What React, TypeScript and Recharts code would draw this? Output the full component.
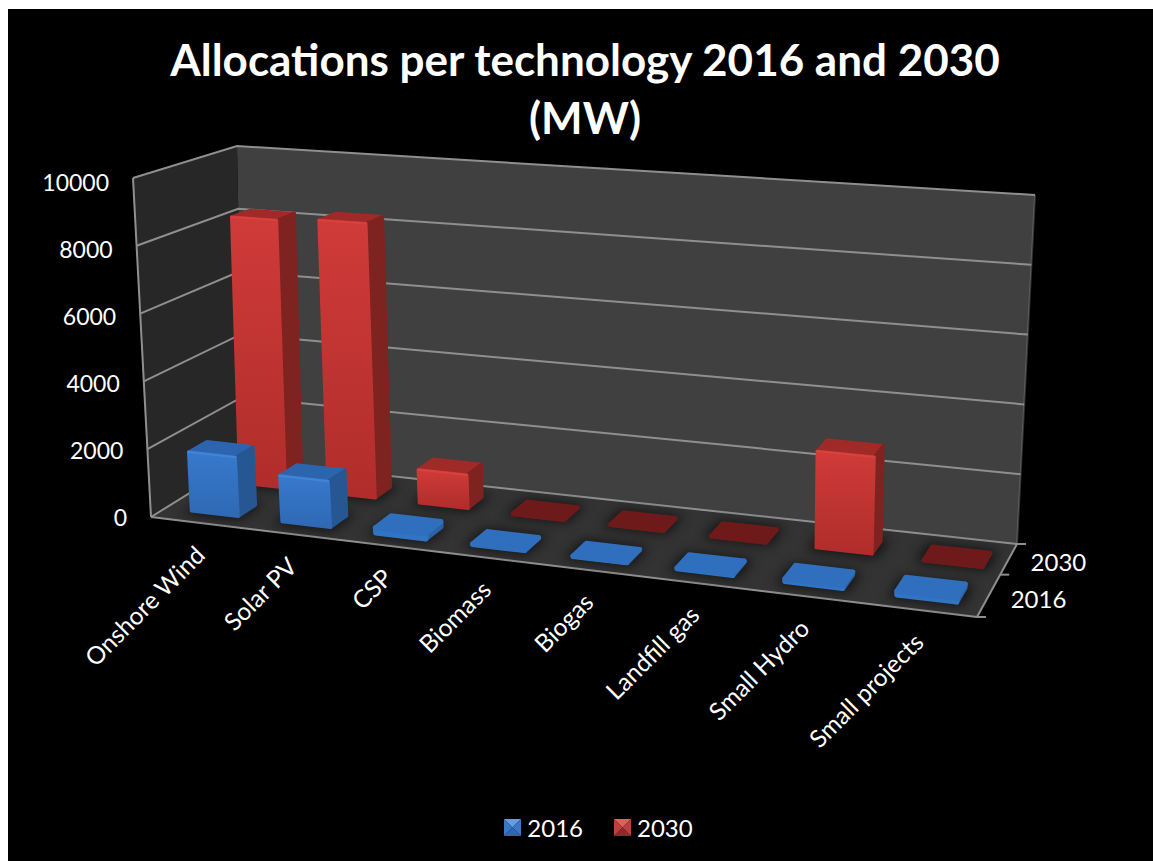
import React from 'react';
import { BarChart, Bar, XAxis, YAxis, CartesianGrid, Legend, Customized } from 'recharts';

const CATEGORIES = ['Onshore Wind', 'Solar PV', 'CSP', 'Biomass', 'Biogas', 'Landfill gas', 'Small Hydro', 'Small projects'];
const VALUES_2016 = [1750, 1350, 150, 12.5, 12.5, 25, 75, 100];
const VALUES_2030 = [8200, 8300, 1000, 0, 0, 0, 2750, 0];
const VALUE_TICKS = [0, 2000, 4000, 6000, 8000, 10000];
const SERIES_NAMES = ['2016', '2030'];

const data = CATEGORIES.map((name, i) => ({ name, '2016': VALUES_2016[i], '2030': VALUES_2030[i] }));

const FONT = 'Lato, "Open Sans", sans-serif';
const W = 1145;
const H = 852;
const OX = 8; // where the chart sits on the page
const OY = 9;
const PLOT = { x: 100, y: 100, w: 800, h: 600 };
const BAR = 52;
const LEGEND_H = 30;

type Pt = [number, number];

// unit square -> quad, perspective
function quadMap(q0: Pt, q1: Pt, q2: Pt, q3: Pt) {
    const [x0, y0] = q0, [x1, y1] = q1, [x2, y2] = q2, [x3, y3] = q3;
    const dx1 = x1 - x2, dx2 = x3 - x2, dx3 = x0 - x1 + x2 - x3;
    const dy1 = y1 - y2, dy2 = y3 - y2, dy3 = y0 - y1 + y2 - y3;
    const den = dx1 * dy2 - dx2 * dy1;
    const g = (dx3 * dy2 - dx2 * dy3) / den;
    const h = (dx1 * dy3 - dx3 * dy1) / den;
    const a = x1 - x0 + g * x1, b = x3 - x0 + h * x3;
    const d = y1 - y0 + g * y1, e = y3 - y0 + h * y3;
    return (u: number, v: number): Pt => {
        const w = g * u + h * v + 1;
        return [(a * u + b * v + x0) / w, (d * u + e * v + y0) / w];
    };
}

const floorMap = quadMap([151 - OX, 517 - OY], [977 - OX, 617 - OY], [1017 - OX, 544 - OY], [243 - OX, 460 - OY]);
const ceilMap = quadMap([133 - OX, 178 - OY], [999 - OX, 240 - OY], [1035 - OX, 195 - OY], [237 - OX, 146 - OY]);

// u along categories, d into the page, h up the value axis (all 0..1)
function project(u: number, d: number, h: number): Pt {
    const a = floorMap(u, d);
    const b = ceilMap(u, d);
    return [a[0] + (b[0] - a[0]) * h, a[1] + (b[1] - a[1]) * h];
}

const toU = (x: number) => (x - PLOT.x) / PLOT.w;
const toH = (y: number) => (PLOT.y + PLOT.h - y) / PLOT.h;
const pts = (list: Pt[]) => list.map((p) => `${p[0].toFixed(1)},${p[1].toFixed(1)}`).join(' ');

const LINE = '#8f8f8f';

const Walls = () => {
    const back = pts([project(0, 1, 0), project(1, 1, 0), project(1, 1, 1), project(0, 1, 1)]);
    const side = pts([project(0, 0, 0), project(0, 1, 0), project(0, 1, 1), project(0, 0, 1)]);
    const floor = pts([project(0, 0, 0), project(1, 0, 0), project(1, 1, 0), project(0, 1, 0)]);
    return (
        <g>
            <defs>
                <filter id="soft" x="-40%" y="-80%" width="180%" height="260%">
                    <feGaussianBlur stdDeviation="6" />
                </filter>
                <linearGradient id="red" x1="0" y1="0" x2="0" y2="1">
                    <stop offset="0" stopColor="#cf3b38" />
                    <stop offset="1" stopColor="#b02d2b" />
                </linearGradient>
                <linearGradient id="blue" x1="0" y1="0" x2="0" y2="1">
                    <stop offset="0" stopColor="#3779cc" />
                    <stop offset="1" stopColor="#2f69b4" />
                </linearGradient>
            </defs>
            <polygon points={back} fill="#404040" />
            <polygon points={side} fill="#272727" />
            <polygon points={floor} fill="#333333" />
        </g>
    );
};

const Edges = () => {
    const seg = (a: Pt, b: Pt, key: string, op = 1) => (
        <line key={key} x1={a[0]} y1={a[1]} x2={b[0]} y2={b[1]} stroke={LINE} strokeWidth={2} strokeOpacity={op} />
    );
    const br = project(1, 1, 0);
    const fr = project(1, 0, 0);
    const mid = project(1, 0.56, 0);
    return (
        <g>
            {seg(project(0, 0, 0), project(0, 0, 1), 'axis')}
            {seg(project(0, 0, 0), project(1, 0, 0), 'front')}
            {seg(project(1, 0, 0), project(1, 1, 0), 'right')}
            {seg(project(1, 1, 0), project(1, 1, 1), 'backright', 0.35)}
            {seg(br, [br[0] + 9, br[1]], 't1')}
            {seg(mid, [mid[0] + 9, mid[1]], 't2')}
            {seg(fr, [fr[0] + 9, fr[1]], 't3')}
            {SERIES_NAMES.map((name, i) => {
                const p = project(1, 0.25 + i * 0.5, 0);
                return (
                    <text key={name} x={p[0] + 23} y={p[1] + 10} fill="#fff" fontSize={24} fontFamily={FONT}>
                        {name}
                    </text>
                );
            })}
        </g>
    );
};

const Title = () => (
    <g fill="#fff" fontFamily={FONT} fontWeight={700} fontSize={44} textAnchor="middle">
        <text x={577} y={67}>Allocations per technology 2016 and 2030</text>
        <text x={577} y={125}>(MW)</text>
    </g>
);

const gridLine = (p: any) => {
    const h = toH(p.y1);
    const a = project(0, 0, h), b = project(0, 1, h), c = project(1, 1, h);
    return (
        <polyline key={p.key ?? p.index ?? h} points={pts([a, b, c])} fill="none" stroke={LINE} strokeWidth={2} />
    );
};

const ValueTick = (p: any) => {
    const h = toH(p.y);
    const q = project(0, 0, h);
    return (
        <text x={q[0] - 24} y={q[1] + 9 + 4 * h} textAnchor="end" fill="#fff" fontSize={23} fontFamily={FONT}>
            {p.payload.value}
        </text>
    );
};

const CategoryTick = (p: any) => {
    const q = project(toU(p.x), 0, 0);
    const x = q[0] + 7;
    const y = q[1] + 34;
    return (
        <text x={x} y={y} textAnchor="end" fill="#fff" fontSize={24.5} fontFamily={FONT} transform={`rotate(-45 ${x} ${y})`}>
            {p.payload.value}
        </text>
    );
};

const COLORS: any = {
    red: { side: '#7f2321', top: '#a02a27', edge: '#d8413d', flat: '#6f1a1a', flatEdge: '#6f1a1a', flatSide: '#6f1a1a' },
    blue: { side: '#265792', top: '#2c65ae', edge: '#4285d6', flat: '#2f6fbd', flatEdge: '#3274c4', flatSide: '#2a62a8' },
};

// one bar, from the rectangle the library computed, turned into a box
const Box = (p: any) => {
    const { x, y, width, height, tone, d0, d1, shift } = p;
    const c = COLORS[tone];
    const u0 = toU(x) + shift, u1 = toU(x + width) + shift;
    const h = toH(y);
    const h0 = toH(y + height);
    const shadow = pts([project(u0 - 0.008, d0 - 0.05, 0), project(u1 + 0.008, d0 - 0.05, 0), project(u1 + 0.008, d1 + 0.05, 0), project(u0 - 0.008, d1 + 0.05, 0)]);
    const top = pts([project(u0, d0, h), project(u1, d0, h), project(u1, d1, h), project(u0, d1, h)]);
    const front = pts([project(u0, d0, h0), project(u1, d0, h0), project(u1, d0, h), project(u0, d0, h)]);
    const side = pts([project(u1, d0, h0), project(u1, d1, h0), project(u1, d1, h), project(u1, d0, h)]);
    const a = project(u0, d0, h), b = project(u1, d0, h);
    const round = { strokeWidth: 3, strokeLinejoin: 'round' as const };
    if (height < 12) {
        return (
            <g>
                <polygon points={shadow} fill="#000" opacity={0.6} filter="url(#soft)" />
                <polygon points={side} fill={c.flatSide} stroke={c.flatSide} strokeWidth={5} strokeLinejoin="round" />
                <polygon points={front} fill={c.flatEdge} stroke={c.flatEdge} strokeWidth={5} strokeLinejoin="round" />
                <polygon points={top} fill={c.flat} stroke={c.flat} strokeWidth={5} strokeLinejoin="round" />
            </g>
        );
    }
    return (
        <g>
            <polygon points={shadow} fill="#000" opacity={0.6} filter="url(#soft)" />
            <polygon points={top} fill={c.top} stroke={c.top} {...round} />
            <polygon points={side} fill={c.side} stroke={c.side} {...round} />
            <polygon points={front} fill={`url(#${tone})`} stroke={`url(#${tone})`} {...round} />
            <line x1={a[0]} y1={a[1]} x2={b[0]} y2={b[1]} stroke={c.edge} strokeWidth={2} strokeLinecap="round" />
        </g>
    );
};

const LegendIcon = ({ tone }: { tone: string }) => {
    const fill = tone === 'blue'
        ? ['#5e9fe6', '#2f66ad', '#3a78c6', '#3a78c6']
        : ['#e0605c', '#8f2a28', '#bf3f3c', '#bf3f3c'];
    return (
        <svg width={17} height={17} style={{ marginRight: 6 }}>
            <polygon points="0,0 17,0 8.5,8.5" fill={fill[0]} />
            <polygon points="0,17 17,17 8.5,8.5" fill={fill[1]} />
            <polygon points="0,0 0,17 8.5,8.5" fill={fill[2]} />
            <polygon points="17,0 17,17 8.5,8.5" fill={fill[3]} />
        </svg>
    );
};

const LegendContent = () => (
    <div style={{ display: 'flex', justifyContent: 'center', alignItems: 'center', color: '#fff', fontFamily: FONT, fontSize: 24, paddingLeft: 36 }}>
        {SERIES_NAMES.map((name, i) => (
            <div key={name} style={{ display: 'flex', alignItems: 'center', marginRight: i === 0 ? 31 : 0 }}>
                <LegendIcon tone={i === 0 ? 'blue' : 'red'} />
                {name}
            </div>
        ))}
    </div>
);

export default function App() {
    return (
        <div style={{ position: 'absolute', left: OX, top: OY, width: W, height: H, background: '#000', overflow: 'hidden' }}>
            <BarChart
                width={W}
                height={H}
                data={data}
                margin={{ top: PLOT.y, left: PLOT.x - 40, right: W - PLOT.x - PLOT.w, bottom: H - PLOT.y - PLOT.h - 30 - LEGEND_H }}
                barSize={BAR}
                barGap={-BAR}
                style={{ background: '#000' }}
            >
                <Customized component={Walls} />
                <CartesianGrid horizontal={gridLine} vertical={false} zIndex={1} />
                <XAxis dataKey="name" height={30} padding={{ left: 4, right: 0 }} axisLine={false} tickLine={false} interval={0} tick={(p: any) => <CategoryTick {...p} />} />
                <YAxis width={40} domain={[0, 10000]} ticks={VALUE_TICKS} axisLine={false} tickLine={false} tick={(p: any) => <ValueTick {...p} />} />
                <Customized component={Edges} />
                <Customized component={Title} />
                <Bar dataKey="2030" isAnimationActive={false} shape={(p: any) => <Box {...p} tone="red" d0={0.64} d1={0.83} shift={0.006} />} />
                <Bar dataKey="2016" isAnimationActive={false} shape={(p: any) => <Box {...p} tone="blue" d0={0.15} d1={0.34} shift={0.001} />} />
                <Legend
                    content={<LegendContent />}
                    wrapperStyle={{ position: 'absolute', left: 0, width: W, top: 804, height: LEGEND_H }}
                />
            </BarChart>
        </div>
    );
}
